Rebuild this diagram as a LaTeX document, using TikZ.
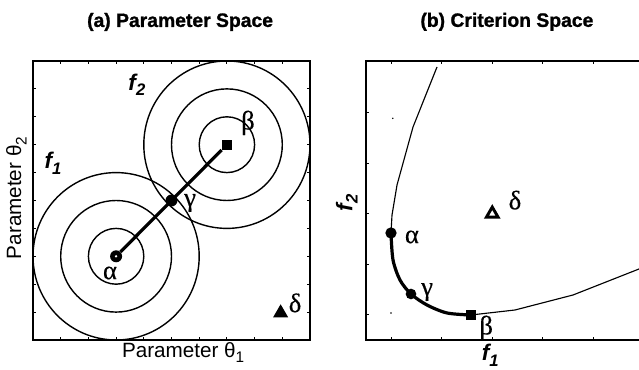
\documentclass[tikz,border=0pt]{standalone}
\usepackage{fontspec}
\setmainfont{Liberation Sans}[BoldFeatures={FakeBold=1.2}]
\newfontfamily\greekfont{Liberation Serif}[FakeBold=0.4]
\usetikzlibrary{shapes.geometric}
\newcommand{\fsubs}[1]{f\raisebox{-0.45ex}{\fontsize{12.5}{13}\selectfont #1}}
\newcommand{\thsubs}[1]{θ\raisebox{-0.5ex}{\fontsize{11.5}{12}\selectfont #1}}
\tikzset{
  frame/.style    ={line width=1.6pt, line cap=rect},
  tickmark/.style ={line width=0.7pt},
  contour/.style  ={line width=1.05pt},
  front/.style    ={line width=0.85pt, line join=round},
  frontbold/.style={line width=2.4pt, line cap=round, line join=round},
  segline/.style  ={line width=2.4pt},
  ptdot/.style    ={circle, fill=black, inner sep=0pt, minimum size=9pt},
  ptsq/.style     ={rectangle, fill=black, inner sep=0pt, minimum size=7.5pt},
  pttri/.style    ={regular polygon, regular polygon sides=3, fill=black,
                    inner sep=0pt, minimum size=13pt},
  pttriopen/.style={pttri, fill=white, draw=black, line width=2.2pt, minimum size=10pt},
  speck/.style    ={circle, fill=black, inner sep=0pt, minimum size=1.2pt},
  greek/.style    ={font=\greekfont\fontsize{20}{20}\selectfont, inner sep=0pt},
  paneltitle/.style={font=\bfseries\fontsize{14.5}{16}\selectfont},
  axlabel/.style  ={font=\fontsize{15.5}{17}\selectfont},
  flabel/.style   ={font=\bfseries\itshape\fontsize{17}{18}\selectfont},
}
\begin{document}
\begin{tikzpicture}[x=0.75pt, y=0.75pt]
\useasboundingbox (0,0) rectangle (639,370);
% (a) parameter space
\begin{scope}[xshift=24.75pt, yshift=22.5pt, x=20.775pt, y=20.925pt]
\coordinate (cA) at (3,3); \coordinate (cB) at (7,7);
\foreach \r in {1,2,3} {
  \draw[contour] (cA) circle (\r);
  \draw[contour] (cB) circle (\r);
}
\node[ptdot] (alphaA) at (cA) {};
\node[ptdot] (gammaA) at (5,5) {};
\node[ptsq]  (betaA)  at (cB) {};
\node[pttri] (deltaA) at (8.94,0.97) {};
\draw[segline] (alphaA) -- (betaA);
\fill[white] (alphaA.center) circle (1pt);
\draw[frame] (0,0) rectangle (10,10);
\foreach \t in {1,...,9} {
  \draw[tickmark] (\t,0) -- ++(0pt,2pt);
  \draw[tickmark] (\t,10) -- ++(0pt,-2pt);
  \draw[tickmark] (0,\t) -- ++(2pt,0pt);
  \draw[tickmark] (10,\t) -- ++(-2pt,0pt);
}
\node[greek] (alphaAl) at (2.78,2.40) {α};
\node[greek] (betaAl)  at (7.76,7.78) {β};
\node[greek] (gammaAl) at (5.67,4.91) {γ};
\node[greek] (deltaAl) at (9.46,1.33) {δ};
\node[flabel] (f1A) at (0.72,6.34) {\fsubs{1}};
\node[flabel] (f2A) at (3.75,9.14) {\fsubs{2}};
\node[axlabel] (xlabA) at (5.42,-0.45) {Parameter \thsubs{1}};
\node[axlabel, rotate=90] (ylabA) at (-0.6,5.09) {Parameter \thsubs{2}};
\node[paneltitle] (titleA) at (5.31,11.4) {(a) Parameter Space};
\end{scope}
% (b) criterion space
\begin{scope}[xshift=274.5pt, yshift=22.5pt, x=37.875pt, y=37.875pt]
\coordinate (top) at (1.406,5.406); \coordinate (k1) at (0.931,4.218);
\coordinate (k2) at (0.614,3.069);  \coordinate (k3) at (0.515,2.475);
\coordinate (aB) at (0.495,2.119);  \coordinate (s1) at (0.535,1.584);
\coordinate (s2) at (0.673,1.188);  \coordinate (gB) at (0.891,0.911);
\coordinate (s3) at (1.208,0.693);  \coordinate (s4) at (1.604,0.535);
\coordinate (bB) at (2.079,0.495);  \coordinate (k4) at (2.950,0.594);
\coordinate (k5) at (4.099,0.891);  \coordinate (rim) at (5.406,1.406);
\draw[front] (top) -- (k1) -- (k2) -- (k3) -- (aB);
\draw[frontbold] plot[smooth] coordinates {(aB) (s1) (s2) (gB) (s3) (s4) (bB)};
\draw[front] (bB) -- (k4) -- (k5) -- (rim);
\node[ptdot, minimum size=8.5pt] (alphaB) at (aB) {};
\node[ptdot, minimum size=8pt]   (gammaB) at (gB) {};
\node[ptsq]  (betaB)  at (bB) {};
\node[pttriopen] (deltaB) at (2.5,2.5) {};
\node[speck] (speck1) at (0.53,4.39) {};
\node[speck] (speck2) at (0.495,0.535) {};
\draw[frame] (5.406,5.525) -- (0,5.525) -- (0,0) -- (5.406,0);
\foreach \t in {0.5,1.5,...,4.5} {
  \draw[tickmark] (\t,0) -- ++(0pt,2pt);
  \draw[tickmark] (\t,5.525) -- ++(0pt,-2pt);
  \draw[tickmark] (0,\t) -- ++(2pt,0pt);
}
\node[greek] (alphaBl) at (0.91,2.04) {α};
\node[greek] (gammaBl) at (1.21,0.95) {γ};
\node[greek] (betaBl)  at (2.38,0.24) {β};
\node[greek] (deltaBl) at (2.95,2.77) {δ};
\node[flabel] (f1B) at (2.46,-0.30) {\fsubs{1}};
\node[flabel, rotate=90] (f2B) at (-0.38,2.71) {\fsubs{2}};
\node[paneltitle] (titleB) at (2.79,6.30) {(b) Criterion Space};
\end{scope}
\end{tikzpicture}
\end{document}
